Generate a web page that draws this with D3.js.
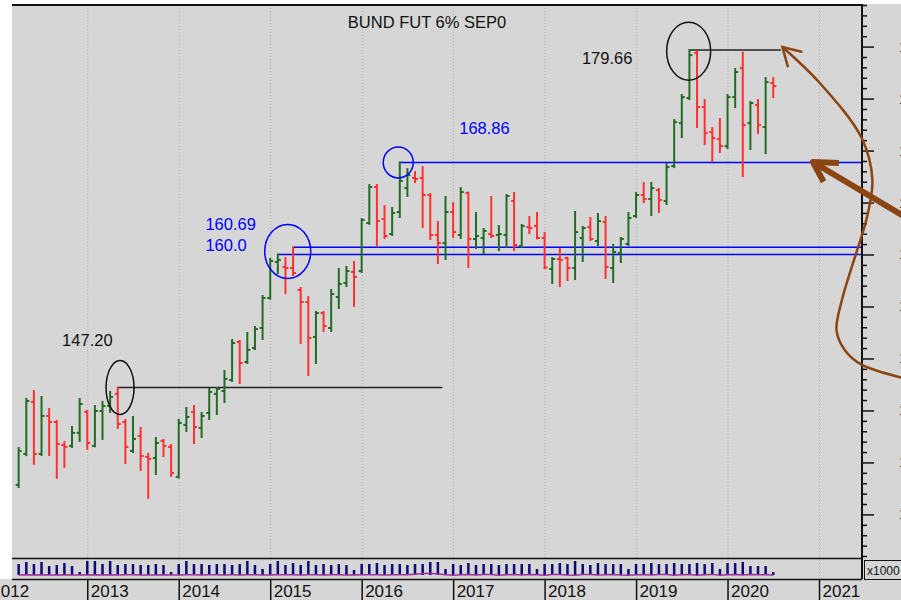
<!DOCTYPE html>
<html>
<head>
<meta charset="utf-8">
<script src="https://cdn.jsdelivr.net/npm/d3@7"></script>
<style>
  body { margin: 0; background: #fff; }
  svg { display: block; font-family: 'Liberation Sans', Arial, sans-serif; }
</style>
</head>
<body>
<script>
// Monthly bars, first bar = April 2012 (month 3 counted from Jan 2012)
const FIRST_MONTH = 3;
const YEARS = [2012, 2013, 2014, 2015, 2016, 2017, 2018, 2019, 2020, 2021];

let opens = [
  137.84, 140.82, 145.82, 140.82, 144.47, 143.89, 141.68, 141.59, 142.84,
  144.86, 141.59, 144.95, 145.43, 146.59, 143.89, 141.11, 142.55, 140.53, 140.43, 142.07, 141.49,
  138.61, 143.61, 144.86, 143.32, 144.76, 146.59, 146.87, 147.93, 151.59, 149.66, 151.01, 152.93,
  155.82, 159.28, 158.80, 158.70, 156.59, 155.43, 152.07, 154.37, 152.93, 155.91, 157.26, 158.32,
  158.41, 163.03, 166.49, 163.41, 161.97, 164.09, 166.39, 167.36, 167.36, 165.72, 161.88, 161.11,
  164.09, 161.88, 165.91, 161.49, 161.59, 161.97, 161.88, 161.88, 165.14, 160.82, 162.64, 162.74,
  161.59, 158.61, 159.57, 159.66, 158.70, 161.59, 162.64, 161.30, 163.13, 158.70, 160.14, 161.01,
  163.70, 165.72, 165.34, 166.20, 165.14, 168.51, 172.64, 175.05, 179.40, 174.18, 171.78, 171.11,
  170.43, 175.14, 177.93, 172.64, 174.38, 172.26, 176.49
];
let highs = [
  141.39, 146.11, 146.87, 146.30, 145.14, 143.99, 141.97, 143.41, 146.11,
  144.95, 145.43, 145.82, 146.78, 147.20, 144.09, 144.37, 143.32, 140.82, 142.36, 142.16, 141.68,
  144.09, 145.24, 145.43, 144.76, 147.07, 147.16, 148.80, 151.78, 151.68, 152.45, 153.03, 156.01,
  159.57, 160.00, 159.66, 160.69, 156.78, 155.91, 154.47, 154.47, 156.59, 158.61, 158.80, 159.28,
  163.41, 166.68, 166.68, 164.66, 164.47, 168.86, 168.22, 167.93, 168.41, 165.82, 163.13, 165.53,
  164.95, 166.39, 165.95, 163.99, 162.45, 165.53, 162.74, 165.72, 165.91, 162.84, 163.61, 163.99,
  162.07, 159.66, 160.53, 159.70, 164.09, 162.64, 163.51, 163.89, 163.61, 160.91, 161.59, 163.99,
  165.91, 166.88, 166.88, 166.30, 168.70, 172.93, 175.34, 179.66, 179.50, 174.86, 172.16, 173.03,
  175.34, 177.84, 179.40, 174.66, 174.86, 176.97, 176.97
];
let lows = [
  137.64, 140.70, 139.86, 140.72, 140.72, 138.51, 139.57, 141.49, 142.07,
  141.30, 141.55, 142.26, 144.86, 143.32, 139.95, 141.01, 139.28, 136.59, 138.89, 140.62, 138.70,
  138.55, 143.03, 141.87, 142.45, 144.18, 144.66, 145.82, 147.84, 147.64, 149.57, 150.91, 151.87,
  155.75, 158.22, 156.30, 158.03, 151.49, 148.41, 149.57, 152.64, 152.64, 154.86, 156.97, 155.05,
  158.32, 162.95, 160.91, 161.59, 161.88, 163.61, 165.63, 166.97, 162.64, 161.49, 159.18, 159.57,
  161.68, 161.59, 158.80, 160.63, 160.14, 161.68, 160.43, 160.72, 160.43, 160.72, 162.07, 161.55,
  158.70, 157.26, 156.97, 157.55, 157.64, 159.38, 161.40, 160.91, 157.74, 157.36, 159.28, 160.91,
  163.61, 165.05, 163.80, 164.09, 164.86, 168.41, 171.30, 174.95, 172.26, 170.63, 169.00, 169.86,
  170.24, 174.18, 167.55, 170.14, 171.68, 169.76, 175.14
];
let closes = [
  141.11, 145.91, 140.82, 144.47, 143.89, 141.78, 141.49, 142.84, 145.62,
  141.87, 144.95, 145.43, 146.30, 143.70, 141.49, 142.26, 140.62, 140.34, 141.87, 141.59, 138.99,
  143.80, 144.37, 143.41, 144.47, 146.78, 147.07, 148.03, 151.49, 149.57, 150.82, 152.84, 155.82,
  159.38, 159.47, 158.70, 158.22, 155.43, 151.97, 154.37, 153.12, 156.20, 157.16, 158.41, 157.84,
  163.32, 166.49, 163.22, 161.78, 163.99, 167.07, 167.64, 167.26, 165.72, 161.88, 161.11, 164.09,
  162.16, 166.01, 161.49, 161.78, 162.26, 161.78, 161.97, 165.63, 160.91, 162.74, 162.55, 161.59,
  158.75, 159.57, 159.47, 158.70, 162.16, 162.55, 161.49, 163.22, 158.80, 160.24, 161.49, 163.51,
  165.72, 165.34, 166.39, 165.24, 168.41, 172.74, 175.14, 179.18, 174.18, 171.68, 171.20, 170.43,
  175.14, 177.55, 172.45, 174.57, 172.45, 176.59, 176.20
];

// volume (x1000) and open interest, one value per bar
let volumes = [
  13200, 15600, 13200, 15600, 10800, 12000, 14400, 10800, 3600,
  16800, 16800, 13200, 16800, 12000, 13200, 13200, 12000, 12000, 13200, 12000, 3600,
  13200, 16800, 13200, 13200, 12000, 13200, 13200, 12000, 13200, 16800, 12000, 7200,
  13200, 16800, 12000, 14400, 12000, 16800, 12000, 13200, 12000, 13200, 12000, 6000,
  13200, 13200, 14400, 12000, 13200, 13200, 12000, 13200, 13200, 15600, 15600, 7200,
  13200, 12000, 14400, 12000, 13200, 13200, 12000, 13200, 13200, 13200, 13200, 7200,
  13200, 13200, 14400, 13200, 16800, 13200, 12000, 14400, 13200, 13200, 13200, 7200,
  13200, 13200, 14400, 13200, 13200, 14400, 13200, 13200, 14400, 13200, 14400, 7200,
  14400, 14400, 15600, 10800, 10800, 10800, 3600
];
let openInterest = [
  950, 1000, 980, 1000, 960, 980, 1000, 970, 940,
  960, 1000, 980, 1000, 970, 990, 1000, 980, 960, 980, 1000, 950,
  970, 1000, 990, 980, 1000, 990, 980, 1000, 980, 1000, 990, 950,
  980, 1000, 990, 1000, 980, 1000, 990, 980, 1000, 990, 980, 960,
  1000, 990, 1000, 980, 1000, 990, 1000, 1150, 1300, 1350, 1200, 1000,
  900, 1000, 1100, 950, 1050, 1100, 900, 1000, 1100, 950, 1050, 1000,
  900, 1050, 1100, 950, 900, 1050, 1100, 950, 1000, 1100, 950, 880,
  1000, 1100, 950, 1050, 1100, 900, 1000, 1050, 900, 1000, 1100, 880,
  1000, 1100, 950, 1050, 1000, 1050, 900
];

// marked levels: [price, first month, last month (null = to the axis), colour]
let levels = [
  [147.20, 16, 58.6, '#222'],
  [160.00, 37, null, '#0000ff'],
  [160.69, 39, null, '#0000ff'],
  [168.86, 53, null, '#0000ff'],
  [179.66, 91, 103, '#222']
];
// circles round the turning points: [month, price, rx, ry, colour]
let rings = [
  [16.3, 147.20, 14, 27, '#111'],
  [38.3, 160.30, 23, 27, '#0000ff'],
  [52.8, 168.86, 15, 15.5, '#0000ff'],
  [90.9, 179.56, 22, 29, '#111']
];
// price labels: [text, month, price, colour]
let labels = [
  ['147.20', 8.7, 151.2, '#111'],
  ['160.69', 27.5, 162.4, '#0000ff'],
  ['160.0', 27.5, 160.35, '#0000ff'],
  ['168.86', 60.8, 171.6, '#0000ff'],
  ['179.66', 76.9, 178.35, '#111']
];
// hand drawn arrows, points as [month, price]
let curveArrow = [
  [103.2, 179.96], [108.1, 176.5], [113.6, 171.2], [115.0, 167.2], [114.3, 163.6],
  [112.3, 158.8], [111.0, 155.6], [110.3, 152.7], [111.4, 150.8], [113.6, 149.4], [119.2, 148.1]
];
let curveHead = [[105.7, 179.5], [103.2, 179.96], [103.9, 178.1]];
let thickArrow = [[122.5, 162.2], [107.2, 168.9]];
let thickHead = [[110.6, 168.8], [107.2, 168.9], [108.6, 167.0]];

let width = 901;
let height = 600;
let plotLeft = 12, plotRight = 862, plotTop = 5;
let priceBottom = 558, volBottom = 579;

let bg = '#d6d6d6';
let green = '#226b22';
let red = '#ff3030';
let brown = '#8b4513';

let body = d3.select('body');
let svg = body.append('svg')
    .attr('width', width)
    .attr('height', height);

svg.append('rect').attr('width', width).attr('height', height).attr('fill', bg);
svg.append('rect').attr('width', plotLeft).attr('height', volBottom).attr('fill', '#fff');
svg.append('rect').attr('width', width).attr('height', plotTop - 1).attr('fill', '#fff');

// months since Jan 2012
let x = d3.scaleLinear().domain([0, 108]).range([-4.2, 819]);
let y = d3.scaleLinear().domain([131, 184]).range([556, 5]);
let yVol = d3.scaleLinear().domain([0, 20400]).range([575, 558]);
let yOi = d3.scaleLinear().domain([0, 5000]).range([579, 558]);

let bars = opens.map((o, i) => ({
  m: FIRST_MONTH + i, o: o, h: highs[i], l: lows[i], c: closes[i],
  v: volumes[i], oi: openInterest[i]
}));

// year grid
svg.append('g')
    .selectAll('line')
    .data(YEARS.slice(1))
    .enter()
    .append('line')
    .attr('x1', (d) => x((d - 2012) * 12) + 0.5)
    .attr('x2', (d) => x((d - 2012) * 12) + 0.5)
    .attr('y1', plotTop)
    .attr('y2', volBottom)
    .attr('stroke', '#b0b0b0')
    .attr('stroke-dasharray', '1,2');

// level lines
svg.append('g')
    .selectAll('line')
    .data(levels)
    .enter()
    .append('line')
    .attr('x1', (d) => x(d[1]))
    .attr('x2', (d) => d[2] === null ? plotRight : x(d[2]))
    .attr('y1', (d) => y(d[0]))
    .attr('y2', (d) => y(d[0]))
    .attr('stroke', (d) => d[3])
    .attr('stroke-width', 1.5);

// OHLC bars
let bar = svg.append('g')
    .selectAll('g')
    .data(bars)
    .enter()
    .append('g')
    .attr('stroke', (d) => d.c >= d.o ? green : red)
    .attr('stroke-width', 2);

bar.append('line')
    .attr('x1', (d) => x(d.m))
    .attr('x2', (d) => x(d.m))
    .attr('y1', (d) => y(d.h) - 1)
    .attr('y2', (d) => y(d.l) + 1);
bar.append('line')
    .attr('x1', (d) => x(d.m) - 3)
    .attr('x2', (d) => x(d.m))
    .attr('y1', (d) => y(d.o))
    .attr('y2', (d) => y(d.o));
bar.append('line')
    .attr('x1', (d) => x(d.m))
    .attr('x2', (d) => x(d.m) + 3)
    .attr('y1', (d) => y(d.c))
    .attr('y2', (d) => y(d.c));

// rings
svg.append('g')
    .selectAll('ellipse')
    .data(rings)
    .enter()
    .append('ellipse')
    .attr('cx', (d) => x(d[0]))
    .attr('cy', (d) => y(d[1]))
    .attr('rx', (d) => d[2])
    .attr('ry', (d) => d[3])
    .attr('fill', 'none')
    .attr('stroke', (d) => d[4])
    .attr('stroke-width', 1.5);

// labels
svg.append('g')
    .selectAll('text')
    .data(labels)
    .enter()
    .append('text')
    .attr('x', (d) => x(d[1]))
    .attr('y', (d) => y(d[2]))
    .attr('fill', (d) => d[3])
    .attr('font-size', 16.5)
    .text((d) => d[0]);

svg.append('text')
    .attr('x', 427)
    .attr('y', 28)
    .attr('text-anchor', 'middle')
    .attr('font-size', 16.5)
    .attr('fill', '#111')
    .text('BUND FUT 6% SEP0');

// volume panel
svg.append('g')
    .selectAll('line')
    .data(bars)
    .enter()
    .append('line')
    .attr('x1', (d) => x(d.m))
    .attr('x2', (d) => x(d.m))
    .attr('y1', (d) => yVol(d.v))
    .attr('y2', yVol(0))
    .attr('stroke', '#0a0a78')
    .attr('stroke-width', 2.5);

svg.append('path')
    .datum(bars)
    .attr('fill', 'none')
    .attr('stroke', '#a0309f')
    .attr('stroke-width', 1.5)
    .attr('d', d3.line().x((d) => x(d.m)).y((d) => yOi(d.oi)));

// frame
svg.append('line').attr('x1', plotLeft).attr('x2', plotRight + 1)
    .attr('y1', plotTop).attr('y2', plotTop).attr('stroke', '#111').attr('stroke-width', 2);
[priceBottom, volBottom].forEach((v) => {
  svg.append('line').attr('x1', plotLeft).attr('x2', plotRight)
      .attr('y1', v + 0.5).attr('y2', v + 0.5).attr('stroke', '#111').attr('stroke-width', 1.5);
});

// right price axis
let yAxis = d3.axisRight(y)
    .tickValues(d3.range(131, 185))
    .tickSize(5)
    .tickFormat((d) => d % 5 === 0 ? d : '');
let yAxisG = svg.append('g')
    .attr('transform', `translate(${plotRight},0)`)
    .call(yAxis);
yAxisG.select('.domain').attr('stroke', '#111').attr('stroke-width', 2)
    .attr('d', `M0,${plotTop}V${volBottom}`);
yAxisG.selectAll('.tick line')
    .attr('stroke', '#111')
    .attr('stroke-width', 1.5)
    .attr('x2', (d) => d % 5 === 0 ? 12 : 5);
yAxisG.selectAll('.tick text')
    .attr('x', 37)
    .attr('font-size', 14)
    .attr('fill', '#111');

// x1000 box
svg.append('rect')
    .attr('x', plotRight + 2.5).attr('y', 560.5)
    .attr('width', 50).attr('height', 19)
    .attr('fill', bg).attr('stroke', '#111');
svg.append('text')
    .attr('x', plotRight + 5).attr('y', 575)
    .attr('font-size', 12).attr('fill', '#111')
    .text('x1000');

// year axis
let xAxis = d3.axisBottom(x)
    .tickValues(YEARS.map((d) => (d - 2012) * 12))
    .tickSize(21)
    .tickFormat((d, i) => YEARS[i]);
let xAxisG = svg.append('g')
    .attr('transform', `translate(0,${volBottom})`)
    .call(xAxis);
xAxisG.select('.domain').remove();
xAxisG.selectAll('.tick line').attr('stroke', '#111').attr('stroke-width', 1.5);
xAxisG.selectAll('.tick text')
    .attr('text-anchor', 'start')
    .attr('x', (d, i) => i === 0 ? -5 : 3)
    .attr('y', 18)
    .attr('dy', null)
    .attr('font-size', 17)
    .attr('fill', '#111');

// brown hand drawn arrows
let pt = d3.line().x((d) => x(d[0])).y((d) => y(d[1]));
svg.append('path')
    .attr('d', d3.line().x((d) => x(d[0])).y((d) => y(d[1])).curve(d3.curveCatmullRom)(curveArrow))
    .attr('fill', 'none').attr('stroke', brown).attr('stroke-width', 2.5);
svg.append('path')
    .attr('d', pt(curveHead))
    .attr('fill', 'none').attr('stroke', brown).attr('stroke-width', 2.5)
    .attr('stroke-linecap', 'round');
svg.append('path')
    .attr('d', pt(thickArrow))
    .attr('fill', 'none').attr('stroke', brown).attr('stroke-width', 6);
svg.append('path')
    .attr('d', pt(thickHead))
    .attr('fill', 'none').attr('stroke', brown).attr('stroke-width', 6)
    .attr('stroke-linejoin', 'round');
</script>
</body>
</html>
